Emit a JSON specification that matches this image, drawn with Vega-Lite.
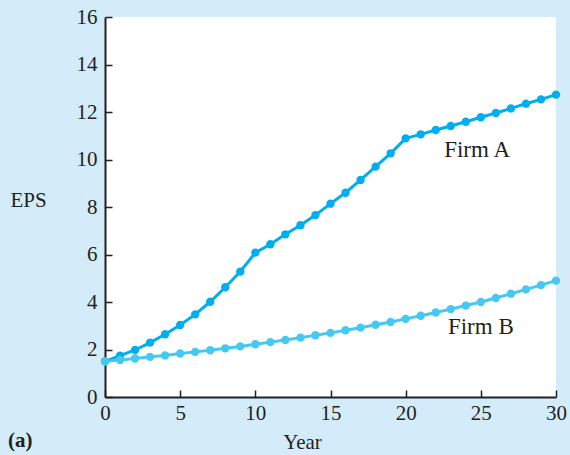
{
  "$schema": "https://vega.github.io/schema/vega-lite/v6.json",
  "width": 451,
  "height": 380,
  "autosize": {"type": "none"},
  "padding": {"left": 105, "top": 17, "right": 14, "bottom": 58},
  "background": "#d4ecf9",
  "config": {
    "view": {"fill": "white", "stroke": null},
    "font": "Liberation Serif",
    "axis": {"grid": false, "domainColor": "#231f20", "tickColor": "#231f20", "domainWidth": 2, "tickWidth": 1.5, "labelColor": "#231f20", "titleColor": "#231f20", "labelFont": "Liberation Serif", "titleFont": "Liberation Serif", "labelFontSize": 21, "titleFontSize": 21, "titleFontWeight": "normal"}
  },
  "title": {"text": "(a)", "orient": "bottom", "anchor": "start", "frame": "group", "dx": -97, "offset": -22, "fontSize": 21, "font": "Liberation Serif", "fontWeight": "bold", "color": "#231f20"},
  "datasets": {
    "eps": [
      {"year": 0, "firm": "Firm A", "eps": 1.5}, {"year": 1, "firm": "Firm A", "eps": 1.74}, {"year": 2, "firm": "Firm A", "eps": 1.98}, {"year": 3, "firm": "Firm A", "eps": 2.29}, {"year": 4, "firm": "Firm A", "eps": 2.64}, {"year": 5, "firm": "Firm A", "eps": 3.03}, {"year": 6, "firm": "Firm A", "eps": 3.48}, {"year": 7, "firm": "Firm A", "eps": 4.01}, {"year": 8, "firm": "Firm A", "eps": 4.62}, {"year": 9, "firm": "Firm A", "eps": 5.28}, {"year": 10, "firm": "Firm A", "eps": 6.08}, {"year": 11, "firm": "Firm A", "eps": 6.43}, {"year": 12, "firm": "Firm A", "eps": 6.85}, {"year": 13, "firm": "Firm A", "eps": 7.23}, {"year": 14, "firm": "Firm A", "eps": 7.66}, {"year": 15, "firm": "Firm A", "eps": 8.14}, {"year": 16, "firm": "Firm A", "eps": 8.6}, {"year": 17, "firm": "Firm A", "eps": 9.14}, {"year": 18, "firm": "Firm A", "eps": 9.7}, {"year": 19, "firm": "Firm A", "eps": 10.26}, {"year": 20, "firm": "Firm A", "eps": 10.89}, {"year": 21, "firm": "Firm A", "eps": 11.06}, {"year": 22, "firm": "Firm A", "eps": 11.24}, {"year": 23, "firm": "Firm A", "eps": 11.41}, {"year": 24, "firm": "Firm A", "eps": 11.59}, {"year": 25, "firm": "Firm A", "eps": 11.78}, {"year": 26, "firm": "Firm A", "eps": 11.96}, {"year": 27, "firm": "Firm A", "eps": 12.15}, {"year": 28, "firm": "Firm A", "eps": 12.35}, {"year": 29, "firm": "Firm A", "eps": 12.53}, {"year": 30, "firm": "Firm A", "eps": 12.73},
      {"year": 0, "firm": "Firm B", "eps": 1.5}, {"year": 1, "firm": "Firm B", "eps": 1.56}, {"year": 2, "firm": "Firm B", "eps": 1.62}, {"year": 3, "firm": "Firm B", "eps": 1.69}, {"year": 4, "firm": "Firm B", "eps": 1.75}, {"year": 5, "firm": "Firm B", "eps": 1.83}, {"year": 6, "firm": "Firm B", "eps": 1.9}, {"year": 7, "firm": "Firm B", "eps": 1.97}, {"year": 8, "firm": "Firm B", "eps": 2.05}, {"year": 9, "firm": "Firm B", "eps": 2.13}, {"year": 10, "firm": "Firm B", "eps": 2.22}, {"year": 11, "firm": "Firm B", "eps": 2.31}, {"year": 12, "firm": "Firm B", "eps": 2.4}, {"year": 13, "firm": "Firm B", "eps": 2.5}, {"year": 14, "firm": "Firm B", "eps": 2.6}, {"year": 15, "firm": "Firm B", "eps": 2.7}, {"year": 16, "firm": "Firm B", "eps": 2.81}, {"year": 17, "firm": "Firm B", "eps": 2.92}, {"year": 18, "firm": "Firm B", "eps": 3.04}, {"year": 19, "firm": "Firm B", "eps": 3.16}, {"year": 20, "firm": "Firm B", "eps": 3.29}, {"year": 21, "firm": "Firm B", "eps": 3.42}, {"year": 22, "firm": "Firm B", "eps": 3.56}, {"year": 23, "firm": "Firm B", "eps": 3.7}, {"year": 24, "firm": "Firm B", "eps": 3.85}, {"year": 25, "firm": "Firm B", "eps": 4.0}, {"year": 26, "firm": "Firm B", "eps": 4.17}, {"year": 27, "firm": "Firm B", "eps": 4.35}, {"year": 28, "firm": "Firm B", "eps": 4.53}, {"year": 29, "firm": "Firm B", "eps": 4.71}, {"year": 30, "firm": "Firm B", "eps": 4.9}
    ],
    "labels": [
      {"year": 24.75, "eps": 10.4, "label": "Firm A"},
      {"year": 25.0, "eps": 2.95, "label": "Firm B"}
    ]
  },
  "layer": [
    {
      "data": {"name": "eps"},
      "mark": {"type": "line", "strokeWidth": 3, "point": {"size": 70, "filled": true, "opacity": 1}},
      "encoding": {
        "x": {"field": "year", "type": "quantitative", "scale": {"domain": [0, 30], "nice": false}, "axis": {"values": [0, 5, 10, 15, 20, 25, 30], "tickSize": -7, "labelPadding": 12, "title": "Year", "titleX": 197, "titleAlign": "center", "titleY": 34, "titleBaseline": "top", "labelFlush": false}},
        "y": {"field": "eps", "type": "quantitative", "scale": {"domain": [0, 16], "nice": false}, "axis": {"values": [0, 2, 4, 6, 8, 10, 12, 14, 16], "tickSize": -7, "labelPadding": 15, "title": "EPS", "titleAngle": 0, "titleX": -95, "titleY": 183, "titleAlign": "left", "titleBaseline": "middle", "labelFlush": false}},
        "color": {"field": "firm", "type": "nominal", "scale": {"domain": ["Firm A", "Firm B"], "range": ["#00aeef", "#45c8f2"]}, "legend": null},
        "order": {"field": "year"}
      }
    },
    {
      "data": {"name": "labels"},
      "mark": {"type": "text", "font": "Liberation Serif", "fontSize": 23, "color": "#231f20", "align": "center", "baseline": "middle"},
      "encoding": {
        "x": {"field": "year", "type": "quantitative"},
        "y": {"field": "eps", "type": "quantitative"},
        "text": {"field": "label"}
      }
    }
  ]
}
